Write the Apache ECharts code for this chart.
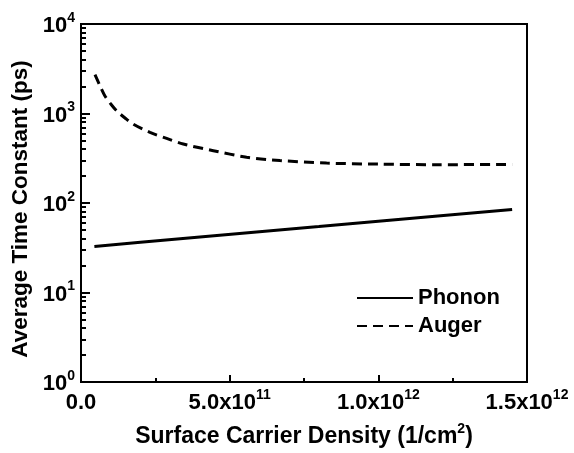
<!DOCTYPE html>
<html><head><meta charset="utf-8">
<script src="https://cdn.jsdelivr.net/npm/echarts@6/dist/echarts.min.js"></script>
<style>html,body{margin:0;padding:0;background:#fff}#c{width:574px;height:453px}</style>
</head><body><div id="c"></div>
<script>
// Data (x in 1/cm^2, y in ps)
var phononX = [0.045e12, 0.2e12, 0.4e12, 0.6e12, 0.8e12, 1.0e12, 1.2e12, 1.45e12];
var phononY = [32.7, 36.4, 41.6, 47.6, 54.5, 62.5, 71.6, 84.7];
var augerX = [0.047e12, 0.065e12, 0.081e12, 0.1e12, 0.12e12, 0.15e12, 0.176e12, 0.232e12, 0.288e12, 0.344e12, 0.445e12, 0.557e12, 0.669e12, 0.826e12, 1.0e12, 1.2e12, 1.45e12];
var augerY = [2720, 2000, 1560, 1280, 1070, 880, 760, 615, 527, 456, 384, 325, 298, 279, 272, 268, 270];
var seriesNames = ['Phonon', 'Auger'];

var FONT = 'Liberation Sans';
function xLabel(v) {
  if (v === 0) return '{b|0.0}';
  var e = Math.floor(Math.log10(v) + 1e-9);
  var m = v / Math.pow(10, e);
  return '{b|' + m.toFixed(1) + 'x10}{s|' + e + '}';
}
function yLabel(v) {
  var e = Math.round(Math.log10(v));
  return '{b|10}{s|' + e + '}';
}
var rich = {
  b: { fontSize: 22, fontWeight: 'bold', fontFamily: FONT, color: '#000', lineHeight: 26, verticalAlign: 'bottom' },
  s: { fontSize: 14, fontWeight: 'bold', fontFamily: FONT, color: '#000', lineHeight: 26, verticalAlign: 'top' }
};

var chart = echarts.init(document.getElementById('c'), null, { renderer: 'canvas' });
chart.setOption({
  animation: false,
  backgroundColor: '#fff',
  grid: { left: 81, top: 24, right: 47, bottom: 68, show: true, borderColor: '#000', borderWidth: 2, backgroundColor: 'transparent' },
  legend: {
    orient: 'vertical', left: 351, top: 282, itemWidth: 56, itemHeight: 14, itemGap: 6,
    itemStyle: { color: 'rgba(0,0,0,0)', borderColor: 'rgba(0,0,0,0)', borderWidth: 0 },
    textStyle: { fontSize: 22, fontWeight: 'bold', fontFamily: FONT, color: '#000', lineHeight: 22 },
    data: seriesNames
  },
  xAxis: {
    type: 'value', min: 0, max: 1.5e12, interval: 0.5e12,
    name: '{t|Surface Carrier Density (1/cm}{s|2}{t|)}', nameLocation: 'middle', nameGap: 40,
    nameTextStyle: {
      rich: {
        t: { fontSize: 23, fontWeight: 'bold', fontFamily: FONT, color: '#000', lineHeight: 26, verticalAlign: 'bottom' },
        s: { fontSize: 14, fontWeight: 'bold', fontFamily: FONT, color: '#000', lineHeight: 26, verticalAlign: 'top' }
      }
    },
    axisLine: { lineStyle: { color: '#000', width: 2 } },
    axisTick: { inside: true, length: 7, lineStyle: { color: '#000', width: 2 } },
    minorTick: { show: true, splitNumber: 2, length: 4, lineStyle: { color: '#000', width: 2 } },
    axisLabel: { formatter: xLabel, rich: rich, margin: 6 },
    splitLine: { show: false }
  },
  yAxis: {
    type: 'log', logBase: 10, min: 1, max: 10000,
    name: 'Average Time Constant (ps)', nameLocation: 'middle', nameGap: 47,
    nameTextStyle: { fontSize: 22.5, fontWeight: 'bold', fontFamily: FONT, color: '#000', padding: [0, 12, 0, 0] },
    axisLine: { lineStyle: { color: '#000', width: 2 } },
    axisTick: { show: true, inside: true, length: 9, lineStyle: { color: '#000', width: 2 } },
    minorTick: { show: true, splitNumber: 9, length: 5, lineStyle: { color: '#000', width: 2 } },
    axisLabel: { formatter: yLabel, rich: rich, margin: 6 },
    splitLine: { show: false }
  },
  series: [
    {
      name: seriesNames[0], type: 'line', showSymbol: false, symbol: 'none',
      data: phononX.map(function (x, i) { return [x, phononY[i]]; }),
      lineStyle: { color: '#000', width: 3, type: 'solid' }, itemStyle: { color: '#000' }
    },
    {
      name: seriesNames[1], type: 'line', showSymbol: false, symbol: 'none', smooth: 0.3,
      data: augerX.map(function (x, i) { return [x, augerY[i]]; }),
      lineStyle: { color: '#000', width: 3, type: [10, 6] }, itemStyle: { color: '#000' }
    }
  ]
});
</script></body></html>
